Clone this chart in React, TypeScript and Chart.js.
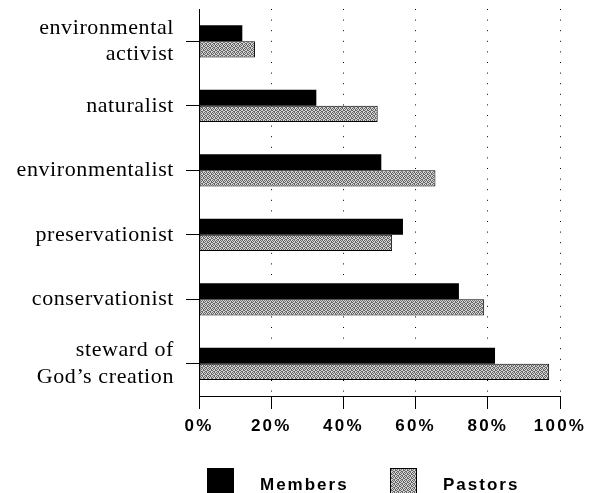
import React, { useEffect, useRef } from "react";
import { Chart, registerables } from "chart.js";

Chart.register(...registerables);

const categories: (string | string[])[] = [
  ["environmental", "activist"],
  "naturalist",
  "environmentalist",
  "preservationist",
  "conservationist",
  ["steward of", "God\u2019s creation"],
];
const membersValues = [12, 32.5, 50.5, 56.5, 72, 82];
const pastorsValues = [15.5, 49.5, 65.5, 53.5, 79, 97];
const xTickValues = [0, 20, 40, 60, 80, 100];
const seriesLabels = ["Members", "Pastors"];

const SANS = '"Liberation Sans", Arial, sans-serif';
const SERIF = '"Liberation Serif", "Times New Roman", serif';

// dither texture for the light series (1 = dark pixel)
const DITHER = [
  "1010",
  "0101",
  "1001",
  "0110",
];

function makePattern(): CanvasPattern | string {
  const pc = document.createElement("canvas");
  pc.width = 4;
  pc.height = 4;
  const p = pc.getContext("2d");
  if (!p) return "#9f9f9f";
  p.fillStyle = "#d4d4d4";
  p.fillRect(0, 0, 4, 4);
  p.fillStyle = "#666666";
  DITHER.forEach((row, y) => {
    row.split("").forEach((c, x) => {
      if (c === "1") p.fillRect(x, y, 1, 1);
    });
  });
  const pat = p.createPattern(pc, "repeat");
  return pat || "#9f9f9f";
}

const spacingPlugin = {
  id: "spacing",
  beforeDraw(chart: any) {
    chart.ctx.letterSpacing = "0.6px";
  },
  afterDatasetsDraw(chart: any) {
    chart.ctx.letterSpacing = "2.2px";
  },
};

const legendPlugin = {
  id: "customLegend",
  afterDraw(chart: any) {
    const ctx = chart.ctx as CanvasRenderingContext2D;
    ctx.save();
    (ctx as any).letterSpacing = "2px";
    ctx.font = `bold 17px ${SANS}`;
    ctx.textBaseline = "alphabetic";
    ctx.textAlign = "left";
    const xs = [207, 390];
    chart.data.datasets.forEach((ds: any, i: number) => {
      const x = xs[i];
      const y = 468;
      ctx.fillStyle = ds.backgroundColor;
      ctx.fillRect(x, y, 27, 27);
      if (ds.borderWidth) {
        ctx.strokeStyle = "#000";
        ctx.lineWidth = 1;
        ctx.strokeRect(x + 0.5, y + 0.5, 26, 26);
      }
      ctx.fillStyle = "#000";
      ctx.fillText(ds.label, x + 53, 490);
    });
    ctx.restore();
  },
};

export default function App() {
  const ref = useRef<HTMLCanvasElement | null>(null);
  useEffect(() => {
    if (!ref.current) return;
    const pattern = makePattern();
    const chart = new Chart(ref.current, {
      type: "bar",
      data: {
        labels: categories as any,
        datasets: [
          {
            label: seriesLabels[0],
            data: membersValues,
            backgroundColor: "#000000",
            borderWidth: 0,
            categoryPercentage: 0.5,
            barPercentage: 1,
          },
          {
            label: seriesLabels[1],
            data: pastorsValues,
            backgroundColor: pattern as any,
            borderColor: "#000000",
            borderWidth: 1,
            borderSkipped: false,
            categoryPercentage: 0.5,
            barPercentage: 1,
          },
        ],
      },
      options: {
        indexAxis: "y",
        animation: false,
        responsive: false,
        maintainAspectRatio: false,
        layout: { padding: { top: 9, left: 0, right: 39, bottom: 52 } },
        plugins: {
          legend: { display: false },
          tooltip: { enabled: false },
        },
        scales: {
          x: {
            min: 0,
            max: 100,
            afterBuildTicks: (s: any) => {
              s.ticks = xTickValues.map((v) => ({ value: v }));
            },
            afterFit: (s: any) => {
              s.height = 45;
            },
            ticks: {
              z: 1,
              padding: 7,
              color: "#000",
              font: { family: SANS, size: 17, weight: "bold" },
              callback: (v: any) => `${v}%`,
              maxRotation: 0,
            },
            grid: {
              color: (c: any) => (c.index === 0 ? "rgba(0,0,0,0)" : "#000"),
              lineWidth: 1,
              drawTicks: true,
              tickLength: 13,
              tickColor: "#000",
              tickWidth: 1,
              tickBorderDash: [],
            },
            border: { display: true, color: "#000", width: 1, dash: [1, 9.6] },
          },
          y: {
            afterFit: (s: any) => {
              s.width = 199;
              s.paddingTop = 0;
              s.paddingBottom = 0;
            },
            ticks: {
              padding: 12,
              color: "#000",
              font: { family: SERIF, size: 22, lineHeight: 1.2 },
            },
            grid: {
              offset: false,
              drawOnChartArea: false,
              drawTicks: true,
              tickLength: 13,
              tickColor: "#000",
              tickWidth: 1,
            },
            border: { display: true, color: "#000", width: 1 },
          },
        },
      },
      plugins: [spacingPlugin, legendPlugin],
    } as any);
    return () => chart.destroy();
  }, []);
  return (
    <div style={{ position: "fixed", left: 0, top: 0, width: 599, height: 493, background: "#fff" }}>
      <canvas ref={ref} width={599} height={493} style={{ display: "block" }} />
    </div>
  );
}
